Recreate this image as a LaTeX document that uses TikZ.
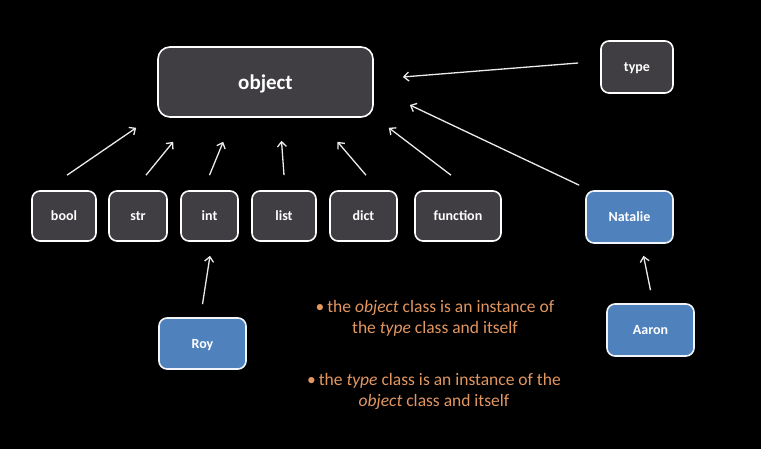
\documentclass[tikz,border=0pt]{standalone}
\usepackage{fontspec}
\setmainfont{Carlito}
\usetikzlibrary{arrows.meta,calc}
\definecolor{boxgray}{RGB}{64,62,66}
\definecolor{boxblue}{RGB}{79,129,189}
\definecolor{noteorange}{RGB}{226,150,96}
\begin{document}
\begin{tikzpicture}[
  x=1pt, y=-1pt,
  every node/.style = {font=\fontsize{14}{16}\selectfont\bfseries, text=white},
  cls/.style = {draw=white, line width=1.6pt, fill=boxgray, rounded corners=8pt,
                minimum height=50pt, inner sep=0pt, text depth=0pt},
  inst/.style = {cls, fill=boxblue, draw=white!92!boxblue, minimum height=52pt,
                 minimum width=87pt},
  isa/.style = {-{Straight Barb[length=5pt, width=9pt]}, line width=1.3pt, white!92!black},
  note/.style = {font=\fontsize{17.5}{21}\selectfont, text=noteorange, align=center},
]

%% ── Background ───────────────────────────────────────────────────────────────
\fill[black] (0,0) rectangle (761,449);
\useasboundingbox (0,0) rectangle (761,449);

%% ── Top: object and type ─────────────────────────────────────────────────────
\node[cls, rounded corners=12pt, minimum width=215pt, minimum height=70pt,
      font=\fontsize{21}{24}\selectfont\bfseries] (object) at (265.5,82) {object};
\node[cls, minimum width=72pt, minimum height=52pt] (type) at (637,67) {type};

%% ── Built-in classes ─────────────────────────────────────────────────────────
\node[cls, minimum width=64pt] (bool) at (64,216) {bool};
\node[cls, minimum width=58pt] (str)  at (138,216) {str};
\node[cls, minimum width=57pt] (int)  at (209.5,216) {int};
\node[cls, minimum width=64pt] (list) at (284,216) {list};
\node[cls, minimum width=67pt] (dict) at (363.5,216) {dict};
\node[cls, minimum width=86pt] (function) at (458,216) {function};

%% ── Instances ────────────────────────────────────────────────────────────────
\node[inst] (natalie) at (629.5,217) {Natalie};
\node[inst] (aaron)   at (650.5,330) {Aaron};
\node[inst, minimum height=51pt] (roy) at (202.5,343.5) {Roy};

%% ── Arrows to object ─────────────────────────────────────────────────────────
\draw[isa] ($(bool.north)+(3,-15)$) -- ($(object.south west)+(-21,10)$);
\draw[isa] ($(str.north)+(8,-15)$) -- ($(object.south west)+(16,24)$);
\draw[isa] ($(int.north)+(0,-15)$) -- ($(object.south west)+(66,24)$);
\draw[isa] ($(list.north)+(0,-15)$) -- ($(object.south)+(16,23)$);
\draw[isa] ($(dict.north)+(2.5,-15)$) -- ($(object.south)+(72,24)$);
\draw[isa] ($(function.north)+(-7,-15)$) -- ($(object.south east)+(15,10)$);
\draw[isa] ($(natalie.north west)+(-6,-5)$) -- ($(object.east)+(36,23)$);
\draw[isa] ($(type.west)+(-22,-4)$) -- ($(object.east)+(29,-5)$);

%% ── Instance arrows ──────────────────────────────────────────────────────────
\draw[isa] ($(roy.north)+(0,-13)$) -- ($(int.south)+(0.5,14)$);
\draw[isa] ($(aaron.north)+(0,-13)$) -- ($(natalie.south)+(14,12)$);

%% ── Notes ────────────────────────────────────────────────────────────────────
\node[note] (note1) at (435,318)
  {\textbullet\,the \textit{object} class is an instance of\\the \textit{type} class and itself};
\node[note] (note2) at (434,391)
  {\textbullet\,the \textit{type} class is an instance of the\\\textit{object} class and itself};

\end{tikzpicture}
\end{document}
